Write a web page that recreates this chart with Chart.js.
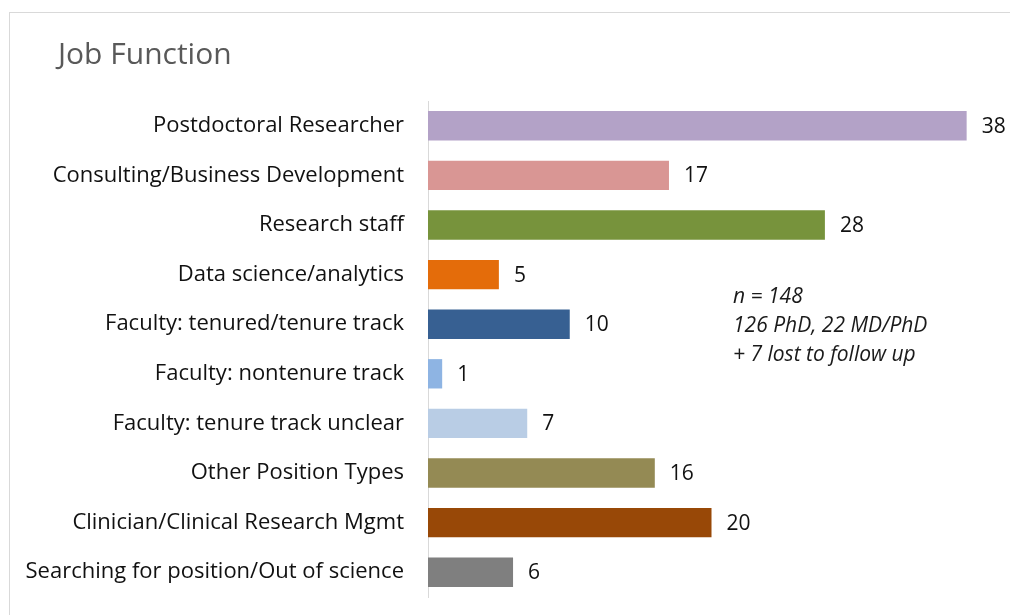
<!DOCTYPE html>
<html>
<head>
<meta charset="utf-8">
<script src="https://cdn.jsdelivr.net/npm/chart.js@4/dist/chart.umd.min.js"></script>
<style>
  html, body { margin: 0; padding: 0; background: #fff; }
  #wrap { position: relative; width: 1010px; height: 615px; overflow: hidden; }
  #frame { position: absolute; left: 9px; top: 12px; width: 1100px; height: 700px; border: 1px solid #d9d9d9; box-sizing: border-box; }
  canvas { position: absolute; left: 0; top: 0; }
</style>
</head>
<body>
<div id="wrap">
  <div id="frame"></div>
  <canvas id="c" width="1010" height="615"></canvas>
</div>
<script>
const title = "Job Function";
const categories = [
  "Postdoctoral Researcher",
  "Consulting/Business Development",
  "Research staff",
  "Data science/analytics",
  "Faculty: tenured/tenure track",
  "Faculty: nontenure track",
  "Faculty: tenure track unclear",
  "Other Position Types",
  "Clinician/Clinical Research Mgmt",
  "Searching for position/Out of science"
];
const values = [38, 17, 28, 5, 10, 1, 7, 16, 20, 6];
const barColors = ["#b3a2c7", "#d99694", "#77933c", "#e46c0a", "#376092", "#8eb4e3", "#b9cde5", "#948a54", "#984807", "#7f7f7f"];
const noteLines = ["n = 148", "126 PhD, 22 MD/PhD", "+ 7 lost to follow up"];

const FONT = "'Open Sans', Lato, sans-serif";

const decor = {
  id: 'decor',
  afterDatasetsDraw(chart) {
    const ctx = chart.ctx;
    const meta = chart.getDatasetMeta(0);
    ctx.save();
    ctx.font = "21px " + FONT;
    ctx.fillStyle = "#111";
    ctx.textAlign = "left";
    ctx.textBaseline = "middle";
    meta.data.forEach((bar, i) => {
      ctx.fillText(String(values[i]), bar.x + 15, bar.y + 1);
    });
    ctx.restore();
  },
  afterDraw(chart) {
    const ctx = chart.ctx;
    ctx.save();
    ctx.font = "30px " + FONT;
    ctx.fillStyle = "#595959";
    ctx.textAlign = "left";
    ctx.textBaseline = "middle";
    ctx.fillText(title, 58, 55);
    ctx.font = "italic 21px " + FONT;
    ctx.fillStyle = "#1a1a1a";
    const y0 = chart.scales.y.getPixelForValue(3.5);
    noteLines.forEach((t, i) => {
      ctx.fillText(t, 733, y0 - 2 + i * 29);
    });
    ctx.restore();
  }
};

new Chart(document.getElementById('c'), {
  type: 'bar',
  data: {
    labels: categories,
    datasets: [{
      data: values,
      backgroundColor: barColors,
      borderWidth: 0,
      categoryPercentage: 0.8,
      barPercentage: 0.74
    }]
  },
  options: {
    indexAxis: 'y',
    responsive: false,
    animation: false,
    layout: { padding: { top: 101, bottom: 18, right: 15, left: 0 } },
    plugins: { legend: { display: false }, tooltip: { enabled: false } },
    scales: {
      x: { min: 0, max: 40, display: false },
      y: {
        grid: { display: false },
        border: { display: true, color: "#d9d9d9", width: 1 },
        ticks: { font: { family: FONT, size: 22 }, color: "#111", padding: 16 },
        afterFit(scale) { scale.width = 428; scale.paddingTop = 0; scale.paddingBottom = 0; }
      }
    }
  },
  plugins: [decor]
});
</script>
</body>
</html>
